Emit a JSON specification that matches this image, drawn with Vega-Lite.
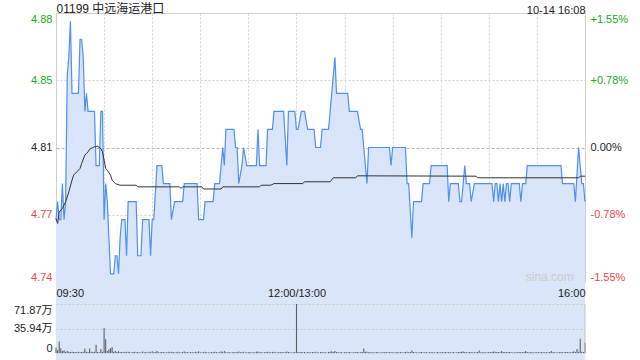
{
  "$schema": "https://vega.github.io/schema/vega-lite/v6.json",
  "background": "white",
  "padding": {"left": 13, "top": 1, "right": 0, "bottom": 0},
  "config": {
    "font": "Liberation Sans",
    "view": {"stroke": "#cccccc"},
    "axis": {
      "labelFont": "Liberation Sans, Noto Sans CJK SC, sans-serif",
      "labelFontSize": 11,
      "ticks": false,
      "tickSize": 0,
      "domain": false,
      "titleFont": "Liberation Sans, Noto Sans CJK SC, sans-serif",
      "titleFontWeight": "normal",
      "titleColor": "#222222",
      "labelColor": "#222222"
    }
  },
  "datasets": {
    "price": [
      {"m":0,"p":4.77},{"m":1,"p":4.78},{"m":2,"p":4.77},{"m":3,"p":4.77},{"m":4,"p":4.79},{"m":5,"p":4.77},{"m":6,"p":4.78},{"m":7,"p":4.85},{"m":8,"p":4.86},{"m":9,"p":4.88},{"m":10,"p":4.84},{"m":14,"p":4.84},{"m":15,"p":4.87},{"m":16,"p":4.87},{"m":17,"p":4.86},{"m":18,"p":4.83},{"m":19,"p":4.84},{"m":20,"p":4.83},{"m":24,"p":4.83},{"m":25,"p":4.80},{"m":27,"p":4.80},{"m":28,"p":4.83},{"m":29,"p":4.83},{"m":30,"p":4.77},{"m":31,"p":4.79},{"m":32,"p":4.78},{"m":33,"p":4.76},{"m":34,"p":4.74},{"m":36,"p":4.74},{"m":37,"p":4.75},{"m":38,"p":4.75},{"m":39,"p":4.74},{"m":40,"p":4.76},{"m":41,"p":4.77},{"m":43,"p":4.77},{"m":44,"p":4.75},{"m":45,"p":4.78},{"m":50,"p":4.78},{"m":51,"p":4.75},{"m":53,"p":4.75},{"m":54,"p":4.77},{"m":58,"p":4.77},{"m":59,"p":4.75},{"m":60,"p":4.77},{"m":61,"p":4.77},{"m":63,"p":4.80},{"m":66,"p":4.80},{"m":67,"p":4.79},{"m":71,"p":4.79},{"m":72,"p":4.77},{"m":74,"p":4.78},{"m":79,"p":4.78},{"m":80,"p":4.79},{"m":88,"p":4.79},{"m":89,"p":4.77},{"m":92,"p":4.77},{"m":93,"p":4.78},{"m":98,"p":4.78},{"m":99,"p":4.79},{"m":102,"p":4.79},{"m":104,"p":4.81},{"m":105,"p":4.80},{"m":106,"p":4.82},{"m":111,"p":4.82},{"m":112,"p":4.81},{"m":113,"p":4.81},{"m":114,"p":4.79},{"m":116,"p":4.80},{"m":117,"p":4.81},{"m":119,"p":4.80},{"m":125,"p":4.80},{"m":126,"p":4.82},{"m":127,"p":4.80},{"m":131,"p":4.80},{"m":132,"p":4.82},{"m":135,"p":4.82},{"m":136,"p":4.83},{"m":142,"p":4.83},{"m":144,"p":4.80},{"m":145,"p":4.83},{"m":149,"p":4.83},{"m":150,"p":4.82},{"m":151,"p":4.82},{"m":153,"p":4.83},{"m":155,"p":4.83},{"m":157,"p":4.82},{"m":161,"p":4.82},{"m":162,"p":4.81},{"m":165,"p":4.81},{"m":166,"p":4.82},{"m":170,"p":4.82},{"m":172,"p":4.84},{"m":174,"p":4.86},{"m":175,"p":4.84},{"m":182,"p":4.84},{"m":183,"p":4.83},{"m":188,"p":4.83},{"m":190,"p":4.82},{"m":191,"p":4.82},{"m":192,"p":4.81},{"m":194,"p":4.79},{"m":195,"p":4.81},{"m":208,"p":4.81},{"m":209,"p":4.80},{"m":210,"p":4.81},{"m":218,"p":4.81},{"m":219,"p":4.79},{"m":220,"p":4.79},{"m":222,"p":4.76},{"m":223,"p":4.78},{"m":228,"p":4.78},{"m":229,"p":4.79},{"m":233,"p":4.79},{"m":234,"p":4.80},{"m":244,"p":4.80},{"m":245,"p":4.78},{"m":246,"p":4.79},{"m":251,"p":4.79},{"m":252,"p":4.78},{"m":253,"p":4.78},{"m":255,"p":4.80},{"m":256,"p":4.79},{"m":258,"p":4.79},{"m":259,"p":4.78},{"m":261,"p":4.79},{"m":272,"p":4.79},{"m":273,"p":4.78},{"m":274,"p":4.79},{"m":275,"p":4.79},{"m":276,"p":4.78},{"m":277,"p":4.79},{"m":278,"p":4.78},{"m":279,"p":4.79},{"m":280,"p":4.78},{"m":281,"p":4.79},{"m":282,"p":4.79},{"m":283,"p":4.78},{"m":284,"p":4.79},{"m":289,"p":4.79},{"m":290,"p":4.78},{"m":291,"p":4.79},{"m":293,"p":4.79},{"m":294,"p":4.80},{"m":315,"p":4.80},{"m":316,"p":4.79},{"m":323,"p":4.79},{"m":324,"p":4.78},{"m":326,"p":4.81},{"m":328,"p":4.79},{"m":329,"p":4.79},{"m":330,"p":4.78}
    ],
    "avg": [
      {"m":0,"a":4.7706},{"m":1,"a":4.7679},{"m":2,"a":4.7743},{"m":4,"a":4.7762},{"m":6,"a":4.7799},{"m":8,"a":4.7854},{"m":10,"a":4.7919},{"m":11,"a":4.7947},{"m":13,"a":4.7965},{"m":15,"a":4.7984},{"m":16,"a":4.8011},{"m":18,"a":4.8058},{"m":19,"a":4.8067},{"m":20,"a":4.8076},{"m":21,"a":4.8091},{"m":24,"a":4.8104},{"m":26,"a":4.8107},{"m":28,"a":4.8094},{"m":29,"a":4.8076},{"m":31,"a":4.7984},{"m":32,"a":4.7974},{"m":34,"a":4.7947},{"m":35,"a":4.7919},{"m":37,"a":4.79},{"m":40,"a":4.7891},{"m":50,"a":4.7891},{"m":51,"a":4.7882},{"m":77,"a":4.7882},{"m":78,"a":4.7873},{"m":79,"a":4.7882},{"m":91,"a":4.7882},{"m":92,"a":4.787},{"m":103,"a":4.787},{"m":104,"a":4.7882},{"m":127,"a":4.7882},{"m":128,"a":4.7891},{"m":134,"a":4.7891},{"m":136,"a":4.79},{"m":154,"a":4.79},{"m":155,"a":4.791},{"m":171,"a":4.791},{"m":173,"a":4.7932},{"m":187,"a":4.7932},{"m":188,"a":4.7943},{"m":262,"a":4.7941},{"m":263,"a":4.7932},{"m":326,"a":4.7932},{"m":327,"a":4.7941},{"m":330,"a":4.7941}
    ],
    "volume": [
      {"m":0,"v":8},{"m":1,"v":4},{"m":2,"v":17},{"m":3,"v":7},{"m":4,"v":3},{"m":5,"v":4},{"m":6,"v":2},{"m":7,"v":3},{"m":8,"v":2},{"m":9,"v":1.5},{"m":10,"v":2},{"m":11,"v":1.5},{"m":12,"v":1.5},{"m":13,"v":1},{"m":14,"v":2},{"m":15,"v":1},{"m":16,"v":1.5},{"m":17,"v":2},{"m":18,"v":6.5},{"m":19,"v":2},{"m":20,"v":1.5},{"m":21,"v":6.5},{"m":22,"v":2},{"m":23,"v":1.5},{"m":24,"v":2},{"m":25,"v":12},{"m":26,"v":1.5},{"m":27,"v":1},{"m":28,"v":6},{"m":29,"v":2},{"m":30,"v":36.5},{"m":31,"v":20},{"m":32,"v":3},{"m":33,"v":5},{"m":34,"v":7},{"m":35,"v":8.5},{"m":36,"v":2},{"m":37,"v":3},{"m":38,"v":1.5},{"m":39,"v":2.5},{"m":40,"v":1.5},
      {"m":41,"v":1.5},{"m":42,"v":1},{"m":43,"v":2},{"m":44,"v":1.2},{"m":45,"v":1.8},{"m":46,"v":1},{"m":47,"v":0.8},{"m":48,"v":1.5},{"m":49,"v":2},{"m":50,"v":1},{"m":51,"v":1.6},{"m":52,"v":1.2},{"m":53,"v":0.8},{"m":54,"v":2.2},{"m":55,"v":1},{"m":56,"v":1.4},{"m":57,"v":0.9},{"m":58,"v":1.8},{"m":59,"v":1.2},{"m":60,"v":2.5},{"m":61,"v":1},{"m":62,"v":1.5},{"m":63,"v":2.8},{"m":64,"v":1.2},{"m":65,"v":1},{"m":66,"v":1.6},{"m":67,"v":1.3},{"m":68,"v":0.8},{"m":69,"v":1.1},{"m":70,"v":1.9},{"m":71,"v":1},{"m":72,"v":2},{"m":73,"v":1.4},{"m":74,"v":0.9},{"m":75,"v":1.2},{"m":76,"v":1.7},{"m":77,"v":1},{"m":78,"v":0.8},{"m":79,"v":1.5},{"m":80,"v":2.2},{"m":81,"v":1},{"m":82,"v":1.3},{"m":83,"v":0.9},{"m":84,"v":1.6},{"m":85,"v":1.1},{"m":86,"v":1},{"m":87,"v":1.8},{"m":88,"v":1.2},{"m":89,"v":2.4},{"m":90,"v":1},
      {"m":91,"v":0.8},{"m":92,"v":1.4},{"m":93,"v":1.9},{"m":94,"v":1},{"m":95,"v":1.2},{"m":96,"v":0.9},{"m":97,"v":1.5},{"m":98,"v":1.1},{"m":99,"v":2},{"m":100,"v":1.3},{"m":101,"v":0.8},{"m":102,"v":1.2},{"m":103,"v":2.6},{"m":104,"v":1.5},{"m":105,"v":3},{"m":106,"v":1.2},{"m":107,"v":1},{"m":108,"v":1.4},{"m":109,"v":0.9},{"m":110,"v":1.2},{"m":111,"v":1.6},{"m":112,"v":1},{"m":113,"v":1.3},{"m":114,"v":2.1},{"m":115,"v":1},{"m":116,"v":1.4},{"m":117,"v":1.8},{"m":118,"v":0.9},{"m":119,"v":1.1},{"m":120,"v":1},{"m":121,"v":1.5},{"m":122,"v":0.8},{"m":123,"v":1.2},{"m":124,"v":1},{"m":125,"v":1.7},{"m":126,"v":2.2},{"m":127,"v":1},{"m":128,"v":1.3},{"m":129,"v":0.9},{"m":130,"v":1.1},{"m":131,"v":1.5},{"m":132,"v":2},{"m":133,"v":1},{"m":134,"v":1.2},{"m":135,"v":1.6},{"m":136,"v":1.9},{"m":137,"v":1},{"m":138,"v":0.8},{"m":139,"v":1.3},{"m":140,"v":1.1},{"m":141,"v":1.5},{"m":142,"v":1},{"m":143,"v":1.2},{"m":144,"v":2.3},{"m":145,"v":1.4},{"m":146,"v":1},{"m":147,"v":0.9},{"m":148,"v":1.2},{"m":149,"v":1.5},{"m":150,"v":71.87},
      {"m":151,"v":1.6},{"m":152,"v":1.2},{"m":153,"v":1.5},{"m":154,"v":1},{"m":155,"v":1.3},{"m":156,"v":0.9},{"m":157,"v":1.4},{"m":158,"v":1.1},{"m":159,"v":1},{"m":160,"v":1.5},{"m":161,"v":1.2},{"m":162,"v":1.8},{"m":163,"v":1},{"m":164,"v":0.9},{"m":165,"v":1.3},{"m":166,"v":1.6},{"m":167,"v":1},{"m":168,"v":1.2},{"m":169,"v":0.8},{"m":170,"v":1.4},{"m":171,"v":2},{"m":172,"v":2.5},{"m":173,"v":1.6},{"m":174,"v":2.8},{"m":175,"v":1.5},{"m":176,"v":1.2},{"m":177,"v":1},{"m":178,"v":1.3},{"m":179,"v":0.9},{"m":180,"v":1.1},{"m":181,"v":1.4},{"m":182,"v":1},{"m":183,"v":1.6},{"m":184,"v":1.2},{"m":185,"v":0.8},{"m":186,"v":1},{"m":187,"v":1.3},{"m":188,"v":1.5},{"m":189,"v":1},{"m":190,"v":1.2},{"m":191,"v":1.6},{"m":192,"v":6.5},{"m":193,"v":2},{"m":194,"v":1.8},{"m":195,"v":1.2},{"m":196,"v":1},{"m":197,"v":1.3},{"m":198,"v":0.9},{"m":199,"v":1.1},{"m":200,"v":1.4},
      {"m":201,"v":1},{"m":202,"v":1.2},{"m":203,"v":0.8},{"m":204,"v":1.3},{"m":205,"v":1},{"m":206,"v":1.5},{"m":207,"v":1.1},{"m":208,"v":1.2},{"m":209,"v":1.6},{"m":210,"v":1},{"m":211,"v":0.9},{"m":212,"v":1.3},{"m":213,"v":1},{"m":214,"v":1.2},{"m":215,"v":1.4},{"m":216,"v":0.8},{"m":217,"v":1.1},{"m":218,"v":1.5},{"m":219,"v":1.8},{"m":220,"v":1.2},{"m":221,"v":1.3},{"m":222,"v":3.5},{"m":223,"v":1.4},{"m":224,"v":1},{"m":225,"v":1.2},{"m":226,"v":0.9},{"m":227,"v":1.3},{"m":228,"v":1.5},{"m":229,"v":1.2},{"m":230,"v":1},{"m":231,"v":1.4},{"m":232,"v":0.9},{"m":233,"v":1.1},{"m":234,"v":1.6},{"m":235,"v":1},{"m":236,"v":1.2},{"m":237,"v":0.8},{"m":238,"v":1.3},{"m":239,"v":1},{"m":240,"v":1.2},{"m":241,"v":1.5},{"m":242,"v":1},{"m":243,"v":1.3},{"m":244,"v":1.1},{"m":245,"v":1.6},{"m":246,"v":1.2},{"m":247,"v":1},{"m":248,"v":1.4},{"m":249,"v":0.9},{"m":250,"v":1.2},
      {"m":251,"v":1.5},{"m":252,"v":1.3},{"m":253,"v":2},{"m":254,"v":2.2},{"m":255,"v":1.5},{"m":256,"v":1.2},{"m":257,"v":1},{"m":258,"v":1.3},{"m":259,"v":1.4},{"m":260,"v":1.1},{"m":261,"v":1.2},{"m":262,"v":1},{"m":263,"v":1.5},{"m":264,"v":3.5},{"m":265,"v":1.2},{"m":266,"v":1},{"m":267,"v":1.3},{"m":268,"v":0.9},{"m":269,"v":1.2},{"m":270,"v":1.4},{"m":271,"v":1.1},{"m":272,"v":1.5},{"m":273,"v":2.2},{"m":274,"v":1.8},{"m":275,"v":1.3},{"m":276,"v":1.6},{"m":277,"v":1.2},{"m":278,"v":2.8},{"m":279,"v":1.4},{"m":280,"v":1.5},{"m":281,"v":1.2},{"m":282,"v":1.3},{"m":283,"v":1.6},{"m":284,"v":1},{"m":285,"v":1.2},{"m":286,"v":0.9},{"m":287,"v":1.3},{"m":288,"v":1.1},{"m":289,"v":1.4},{"m":290,"v":1.6},{"m":291,"v":1.2},{"m":292,"v":1.5},{"m":293,"v":3},{"m":294,"v":1.3},{"m":295,"v":1},{"m":296,"v":1.2},{"m":297,"v":1.4},{"m":298,"v":0.9},{"m":299,"v":1.1},{"m":300,"v":1.5},
      {"m":301,"v":1.2},{"m":302,"v":1},{"m":303,"v":1.3},{"m":304,"v":1.2},{"m":305,"v":1.4},{"m":306,"v":1},{"m":307,"v":1.2},{"m":308,"v":1.6},{"m":309,"v":2.8},{"m":310,"v":1.3},{"m":311,"v":1},{"m":312,"v":1.2},{"m":313,"v":0.9},{"m":314,"v":1.4},{"m":315,"v":1.6},{"m":316,"v":1.2},{"m":317,"v":1.1},{"m":318,"v":1.3},{"m":319,"v":1.5},{"m":320,"v":1.2},{"m":321,"v":1},{"m":322,"v":1.4},{"m":323,"v":2.6},{"m":324,"v":1.5},{"m":325,"v":6},{"m":326,"v":1.8},{"m":327,"v":21},{"m":328,"v":2},{"m":329,"v":1.5},{"m":330,"v":15}
    ]
  },
  "bounds": "flush",
  "spacing": 22,
  "vconcat": [
    {
      "width": 529,
      "height": 269,
      "layer": [
        {
          "data": {"name": "price"},
          "mark": {
            "type": "area",
            "fill": {"gradient": "linear", "x1": 0, "y1": 0, "x2": 0, "y2": 1,
              "stops": [{"offset": 0, "color": "#d8e4f9"}, {"offset": 0.5, "color": "#ebf1fc"}, {"offset": 1, "color": "#fdfeff"}]}
          },
          "encoding": {
            "x": {"field": "m", "type": "quantitative",
              "scale": {"domain": [0, 330], "nice": false, "zero": false},
              "axis": {"orient": "bottom", "title": null, "labels": false,
                "values": [0, 30, 60, 90, 120, 150, 180, 210, 240, 270, 300, 330],
                "grid": true, "gridColor": "#d2d2d2", "gridDash": [2, 2]}},
            "y": {"field": "p", "type": "quantitative",
              "scale": {"domain": [4.73545, 4.88455], "nice": false, "zero": false},
              "axis": {"orient": "left", "title": null,
                "values": [4.73545, 4.772725, 4.81, 4.847275, 4.88455],
                "format": ".2f", "labelFlush": true, "labelPadding": 4,
                "labelColor": {"condition": [{"test": "datum.value > 4.82", "value": "#22a822"}, {"test": "datum.value < 4.8", "value": "#f04444"}], "value": "#222222"},
                "grid": true,
                "gridColor": {"condition": {"test": "abs(datum.value - 4.81) < 0.001", "value": "#b4b4b4"}, "value": "#d2d2d2"},
                "gridDash": {"condition": {"test": "abs(datum.value - 4.81) < 0.001", "value": [3, 2]}, "value": [2, 2]}}}
          }
        },
        {
          "data": {"name": "price"},
          "mark": {"type": "line", "color": "#4f8ff0", "strokeWidth": 1.2},
          "encoding": {
            "x": {"field": "m", "type": "quantitative",
              "scale": {"domain": [0, 330], "nice": false, "zero": false},
              "axis": {"orient": "top", "labels": false, "grid": false,
                "title": "01199 中远海运港口", "titleAnchor": "start", "titleFontSize": 12, "titlePadding": -2}},
            "y": {"field": "p", "type": "quantitative",
              "scale": {"domain": [4.73545, 4.88455], "nice": false, "zero": false},
              "axis": null}
          }
        },
        {
          "data": {"name": "avg"},
          "mark": {"type": "line", "color": "#333333", "strokeWidth": 1},
          "encoding": {
            "x": {"field": "m", "type": "quantitative",
              "scale": {"domain": [0, 330], "nice": false, "zero": false},
              "axis": {"orient": "top", "labels": false, "grid": false,
                "title": "10-14 16:08", "titleAnchor": "end", "titleFontSize": 11, "titlePadding": -2}},
            "y": {"field": "a", "type": "quantitative",
              "scale": {"domain": [4.73545, 4.88455], "nice": false, "zero": false},
              "axis": {"orient": "right", "title": null,
                "values": [4.73545, 4.772725, 4.81, 4.847275, 4.88455],
                "labelExpr": "datum.value > 4.86 ? '+1.55%' : datum.value > 4.82 ? '+0.78%' : datum.value > 4.8 ? '0.00%' : datum.value > 4.76 ? '-0.78%' : '-1.55%'",
                "labelFlush": true, "labelPadding": 5, "grid": false,
                "labelColor": {"condition": [{"test": "datum.value > 4.82", "value": "#22a822"}, {"test": "datum.value < 4.8", "value": "#f04444"}], "value": "#222222"}}}
          }
        },
        {
          "data": {"values": [{"label": "sina.com"}]},
          "mark": {"type": "text", "align": "right", "baseline": "middle", "fontSize": 12, "color": "#cccccc", "font": "Liberation Sans"},
          "encoding": {
            "x": {"datum": 323, "type": "quantitative", "scale": {"domain": [0, 330], "nice": false, "zero": false}, "axis": null},
            "y": {"datum": 4.7382, "type": "quantitative", "scale": {"domain": [4.73545, 4.88455], "nice": false, "zero": false}, "axis": null},
            "text": {"field": "label"}
          }
        }
      ],
      "resolve": {"axis": {"x": "independent", "y": "independent"}}
    },
    {
      "width": 529,
      "height": 49,
      "view": {"stroke": null},
      "layer": [
        {
          "data": {"name": "volume"},
          "mark": {"type": "bar", "size": 1, "color": "#555555"},
          "encoding": {
            "x": {"field": "m", "type": "quantitative",
              "scale": {"domain": [0, 330], "nice": false, "zero": false, "padding": 0},
              "axis": {"orient": "top", "title": null, "grid": false,
                "values": [0, 150, 330],
                "labelExpr": "datum.value == 0 ? '09:30' : datum.value == 150 ? '12:00/13:00' : '16:00'",
                "labelFlush": true, "labelOverlap": false, "labelPadding": 6}},
            "y": {"field": "v", "type": "quantitative",
              "scale": {"domain": [0, 71.87], "nice": false},
              "axis": {"orient": "left", "title": null, "values": [0, 35.935, 71.87],
                "labelExpr": "datum.value == 0 ? '0' : datum.value < 50 ? '35.94万' : '71.87万'",
                "labelFlush": true, "labelOverlap": false, "labelPadding": 4,
                "grid": true, "gridColor": "#c8c8c8", "gridDash": [2, 2]}}
          }
        },
        {
          "data": {"values": [{"edge": "right"}]},
          "mark": {"type": "rule", "color": "#c4c4c4", "strokeWidth": 1},
          "encoding": {
            "x": {"datum": 330, "type": "quantitative",
              "scale": {"domain": [0, 330], "nice": false, "zero": false, "padding": 0}, "axis": null},
            "y": {"datum": 0, "type": "quantitative",
              "scale": {"domain": [0, 71.87], "nice": false}, "axis": null},
            "y2": {"datum": 71.87}
          }
        }
      ],
      "resolve": {"axis": {"x": "independent", "y": "independent"}}
    }
  ]
}
